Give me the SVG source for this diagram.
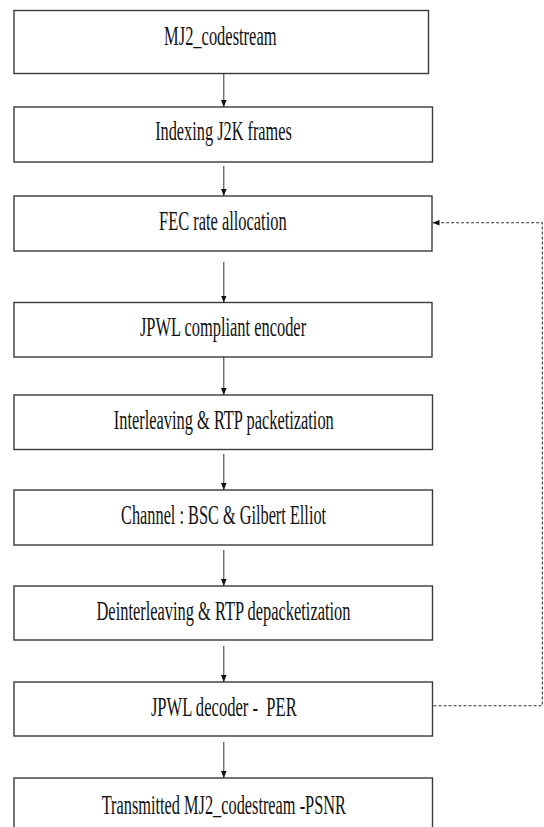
<svg xmlns="http://www.w3.org/2000/svg" width="544" height="827" viewBox="0 0 544 827">
  <style>
    .box { fill: #ffffff; stroke: #3a3a3a; stroke-width: 1.4; }
    .lbl { font-family: "Liberation Serif", "Times New Roman", serif; font-size: 28px; fill: #111111; text-anchor: middle; }
    .flow { stroke: #333333; stroke-width: 1; fill: none; }
    .fb { stroke: #333333; stroke-width: 1.1; fill: none; stroke-dasharray: 3 2; }
  </style>
  <defs>
    <marker id="tip" viewBox="0 0 8 8" refX="8" refY="4" markerWidth="7" markerHeight="7" markerUnits="userSpaceOnUse" orient="auto">
      <path d="M0,0.8 L8,4 L0,7.2 Z" fill="#111111"/>
    </marker>
  </defs>
  <rect x="0" y="0" width="544" height="827" fill="#ffffff"/>

  <g id="n1">
    <rect class="box" x="14" y="10.5" width="414.5" height="63"/>
    <text class="lbl" x="220.3" y="44.5" textLength="112.4" lengthAdjust="spacingAndGlyphs">MJ2_codestream</text>
  </g>
  <g id="n2">
    <rect class="box" x="14" y="107" width="418.5" height="55"/>
    <text class="lbl" x="223.5" y="140" textLength="136.7" lengthAdjust="spacingAndGlyphs">Indexing J2K frames</text>
  </g>
  <g id="n3">
    <rect class="box" x="14" y="196" width="418" height="55"/>
    <text class="lbl" x="222.8" y="230" textLength="127.6" lengthAdjust="spacingAndGlyphs">FEC rate allocation</text>
  </g>
  <g id="n4">
    <rect class="box" x="14" y="302.5" width="418" height="54.5"/>
    <text class="lbl" x="223" y="336" textLength="166.2" lengthAdjust="spacingAndGlyphs">JPWL compliant encoder</text>
  </g>
  <g id="n5">
    <rect class="box" x="14" y="395" width="418.5" height="54.5"/>
    <text class="lbl" x="223.8" y="429" textLength="220" lengthAdjust="spacingAndGlyphs">Interleaving &amp; RTP packetization</text>
  </g>
  <g id="n6">
    <rect class="box" x="14" y="490" width="418.5" height="55"/>
    <text class="lbl" x="223.6" y="524" textLength="205" lengthAdjust="spacingAndGlyphs">Channel : BSC &amp; Gilbert Elliot</text>
  </g>
  <g id="n7">
    <rect class="box" x="14" y="586" width="418.5" height="54"/>
    <text class="lbl" x="223.5" y="619.5" textLength="254" lengthAdjust="spacingAndGlyphs">Deinterleaving &amp; RTP depacketization</text>
  </g>
  <g id="n8">
    <rect class="box" x="14" y="682" width="418.5" height="54"/>
    <text class="lbl" x="223.8" y="716" textLength="145.8" lengthAdjust="spacingAndGlyphs" xml:space="preserve">JPWL decoder -  PER</text>
  </g>
  <g id="n9">
    <rect class="box" x="14" y="778" width="418.5" height="60"/>
    <text class="lbl" x="223.8" y="814" textLength="244.2" lengthAdjust="spacingAndGlyphs">Transmitted MJ2_codestream -PSNR</text>
  </g>

  <g id="connectors">
    <line class="flow" x1="223.8" y1="73.5" x2="223.8" y2="107" marker-end="url(#tip)"/>
    <line class="flow" x1="223.8" y1="166" x2="223.8" y2="196" marker-end="url(#tip)"/>
    <line class="flow" x1="223.8" y1="262" x2="223.8" y2="302.5" marker-end="url(#tip)"/>
    <line class="flow" x1="223.8" y1="357" x2="223.8" y2="395" marker-end="url(#tip)"/>
    <line class="flow" x1="223.8" y1="454" x2="223.8" y2="490" marker-end="url(#tip)"/>
    <line class="flow" x1="223.8" y1="550" x2="223.8" y2="586" marker-end="url(#tip)"/>
    <line class="flow" x1="223.8" y1="646" x2="223.8" y2="682" marker-end="url(#tip)"/>
    <line class="flow" x1="223.8" y1="742" x2="223.8" y2="778" marker-end="url(#tip)"/>
    <!-- feedback loop: decoder PER back to FEC rate allocation -->
    <polyline class="fb" points="433.5,705.7 542.3,705.7 542.3,222.7 432.5,222.7" marker-end="url(#tip)"/>
  </g>
</svg>
